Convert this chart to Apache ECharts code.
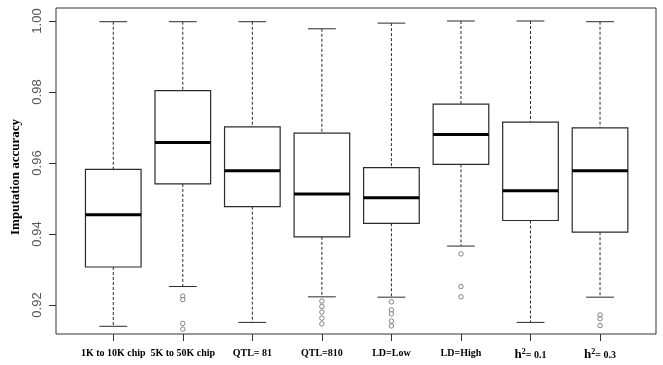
<!DOCTYPE html>
<html>
<head>
<meta charset="utf-8">
<script src="https://cdn.jsdelivr.net/npm/echarts@6/dist/echarts.min.js"></script>
<style>
html,body{margin:0;padding:0;background:#fff;}
#chart{width:663px;height:365px;}
</style>
</head>
<body>
<div id="chart"></div>
<script>
// ---- data ----
var categories = ['1K to 10K chip', '5K to 50K chip', 'QTL= 81', 'QTL=810', 'LD=Low', 'LD=High', 'h²= 0.1', 'h²= 0.3'];
var lowerWhisker = [0.9140, 0.9252, 0.9151, 0.9223, 0.9222, 0.9366, 0.9151, 0.9222];
var q1Values     = [0.9307, 0.9541, 0.9477, 0.9392, 0.9430, 0.9596, 0.9438, 0.9405];
var medianValues = [0.9454, 0.9658, 0.9578, 0.9513, 0.9502, 0.9680, 0.9522, 0.9578];
var q3Values     = [0.9582, 0.9804, 0.9702, 0.9684, 0.9587, 0.9766, 0.9715, 0.9699];
var upperWhisker = [0.9998, 0.9998, 0.9998, 0.9978, 0.9994, 1.0000, 1.0000, 0.9998];
var outlierCategory = [1, 1, 1, 1, 3, 3, 3, 3, 3, 4, 4, 4, 4, 4, 5, 5, 5, 7, 7, 7];
var outlierValues   = [0.9225, 0.9215, 0.9148, 0.9132,
                       0.9211, 0.9196, 0.9180, 0.9163, 0.9147,
                       0.9209, 0.9186, 0.9175, 0.9155, 0.9141,
                       0.9344, 0.9252, 0.9223,
                       0.9172, 0.9161, 0.9142];
var yTicks = [0.92, 0.94, 0.96, 0.98, 1.00];
var yTitle = 'Imputation accuracy';
var yMin = 0.91183, yMax = 1.00366;

// ---- build series data ----
var boxData = categories.map(function (c, i) {
  return [i, lowerWhisker[i], q1Values[i], medianValues[i], q3Values[i], upperWhisker[i]];
});
var outlierData = outlierValues.map(function (v, i) { return [outlierCategory[i], v]; });

var LINE = '#2a2a2a';
function renderBox(params, api) {
  var x = api.value(0);
  var band = api.size([1, 0])[0];
  var bw = band * 0.8, cw = band * 0.4;
  var pLo = api.coord([x, api.value(1)]);
  var pQ1 = api.coord([x, api.value(2)]);
  var pMed = api.coord([x, api.value(3)]);
  var pQ3 = api.coord([x, api.value(4)]);
  var pHi = api.coord([x, api.value(5)]);
  var cx = pMed[0];
  var dash = {stroke: LINE, lineWidth: 1, lineDash: [3, 2]};
  var solid = {stroke: LINE, lineWidth: 1};
  return {
    type: 'group',
    children: [
      {type: 'line', shape: {x1: cx, y1: pHi[1], x2: cx, y2: pQ3[1]}, style: dash},
      {type: 'line', shape: {x1: cx, y1: pQ1[1], x2: cx, y2: pLo[1]}, style: dash},
      {type: 'line', shape: {x1: cx - cw / 2, y1: pHi[1], x2: cx + cw / 2, y2: pHi[1]}, style: solid},
      {type: 'line', shape: {x1: cx - cw / 2, y1: pLo[1], x2: cx + cw / 2, y2: pLo[1]}, style: solid},
      {type: 'rect', shape: {x: cx - bw / 2, y: pQ3[1], width: bw, height: pQ1[1] - pQ3[1]},
        style: {fill: '#fff', stroke: LINE, lineWidth: 1.2}},
      {type: 'line', shape: {x1: cx - bw / 2, y1: pMed[1], x2: cx + bw / 2, y2: pMed[1]},
        style: {stroke: '#000', lineWidth: 3}}
    ]
  };
}

var chart = echarts.init(document.getElementById('chart'), null, {renderer: 'canvas'});
chart.setOption({
  animation: false,
  backgroundColor: '#fff',
  grid: [
    {left: 78.5, right: 28.2, top: 8, bottom: 31},
    {left: 56, right: 7, top: 8, bottom: 31, show: true, borderColor: '#333', borderWidth: 1, backgroundColor: 'transparent'}
  ],
  xAxis: [
    {
      type: 'category', gridIndex: 0, data: categories, boundaryGap: true,
      axisLine: {show: false},
      axisTick: {show: true, alignWithLabel: true, length: 7, lineStyle: {color: '#333'}},
      axisLabel: {
        margin: 14, interval: 0, color: '#000',
        fontFamily: 'Liberation Serif', fontWeight: 'bold', fontSize: 10,
        formatter: function (v) {
          if (v.indexOf('h²') === 0) { return '{h|h}{s|2}{t|' + v.slice(2) + '}'; }
          return v;
        },
        rich: {
          h: {fontFamily: 'Liberation Serif', fontWeight: 'bold', fontSize: 13, color: '#000', lineHeight: 14},
          s: {fontFamily: 'Liberation Serif', fontWeight: 'bold', fontSize: 8, color: '#000', verticalAlign: 'top', lineHeight: 14, padding: [0, 0, 6, 0]},
          t: {fontFamily: 'Liberation Serif', fontWeight: 'bold', fontSize: 10, color: '#000', lineHeight: 14}
        }
      },
      splitLine: {show: false}
    },
    {type: 'value', gridIndex: 1, show: false, min: 0, max: 1}
  ],
  yAxis: [
    {type: 'value', gridIndex: 0, show: false, min: yMin, max: yMax, splitLine: {show: false}},
    {
      type: 'value', gridIndex: 1, min: yMin, max: yMax,
      name: yTitle, nameLocation: 'middle', nameGap: 34, nameRotate: 90,
      nameTextStyle: {fontFamily: 'Liberation Serif', fontWeight: 'bold', fontSize: 13, color: '#000', padding: [0, 12, 0, 0]},
      axisLine: {show: false},
      axisTick: {show: true, length: 7, lineStyle: {color: '#333'}, customValues: yTicks},
      axisLabel: {
        show: true, rotate: 90, margin: 12, color: '#555',
        fontFamily: 'Liberation Sans', fontSize: 13,
        customValues: yTicks,
        formatter: function (v) { return v.toFixed(2); }
      },
      splitLine: {show: false}
    }
  ],
  series: [
    {
      type: 'custom', xAxisIndex: 0, yAxisIndex: 0,
      renderItem: renderBox, data: boxData,
      encode: {x: 0, y: [1, 2, 3, 4, 5]}, z: 2
    },
    {
      type: 'scatter', xAxisIndex: 0, yAxisIndex: 0,
      data: outlierData, symbol: 'circle', symbolSize: 4.5,
      itemStyle: {color: '#fff', borderColor: '#444', borderWidth: 0.8}, z: 3
    }
  ]
});
</script>
</body>
</html>
